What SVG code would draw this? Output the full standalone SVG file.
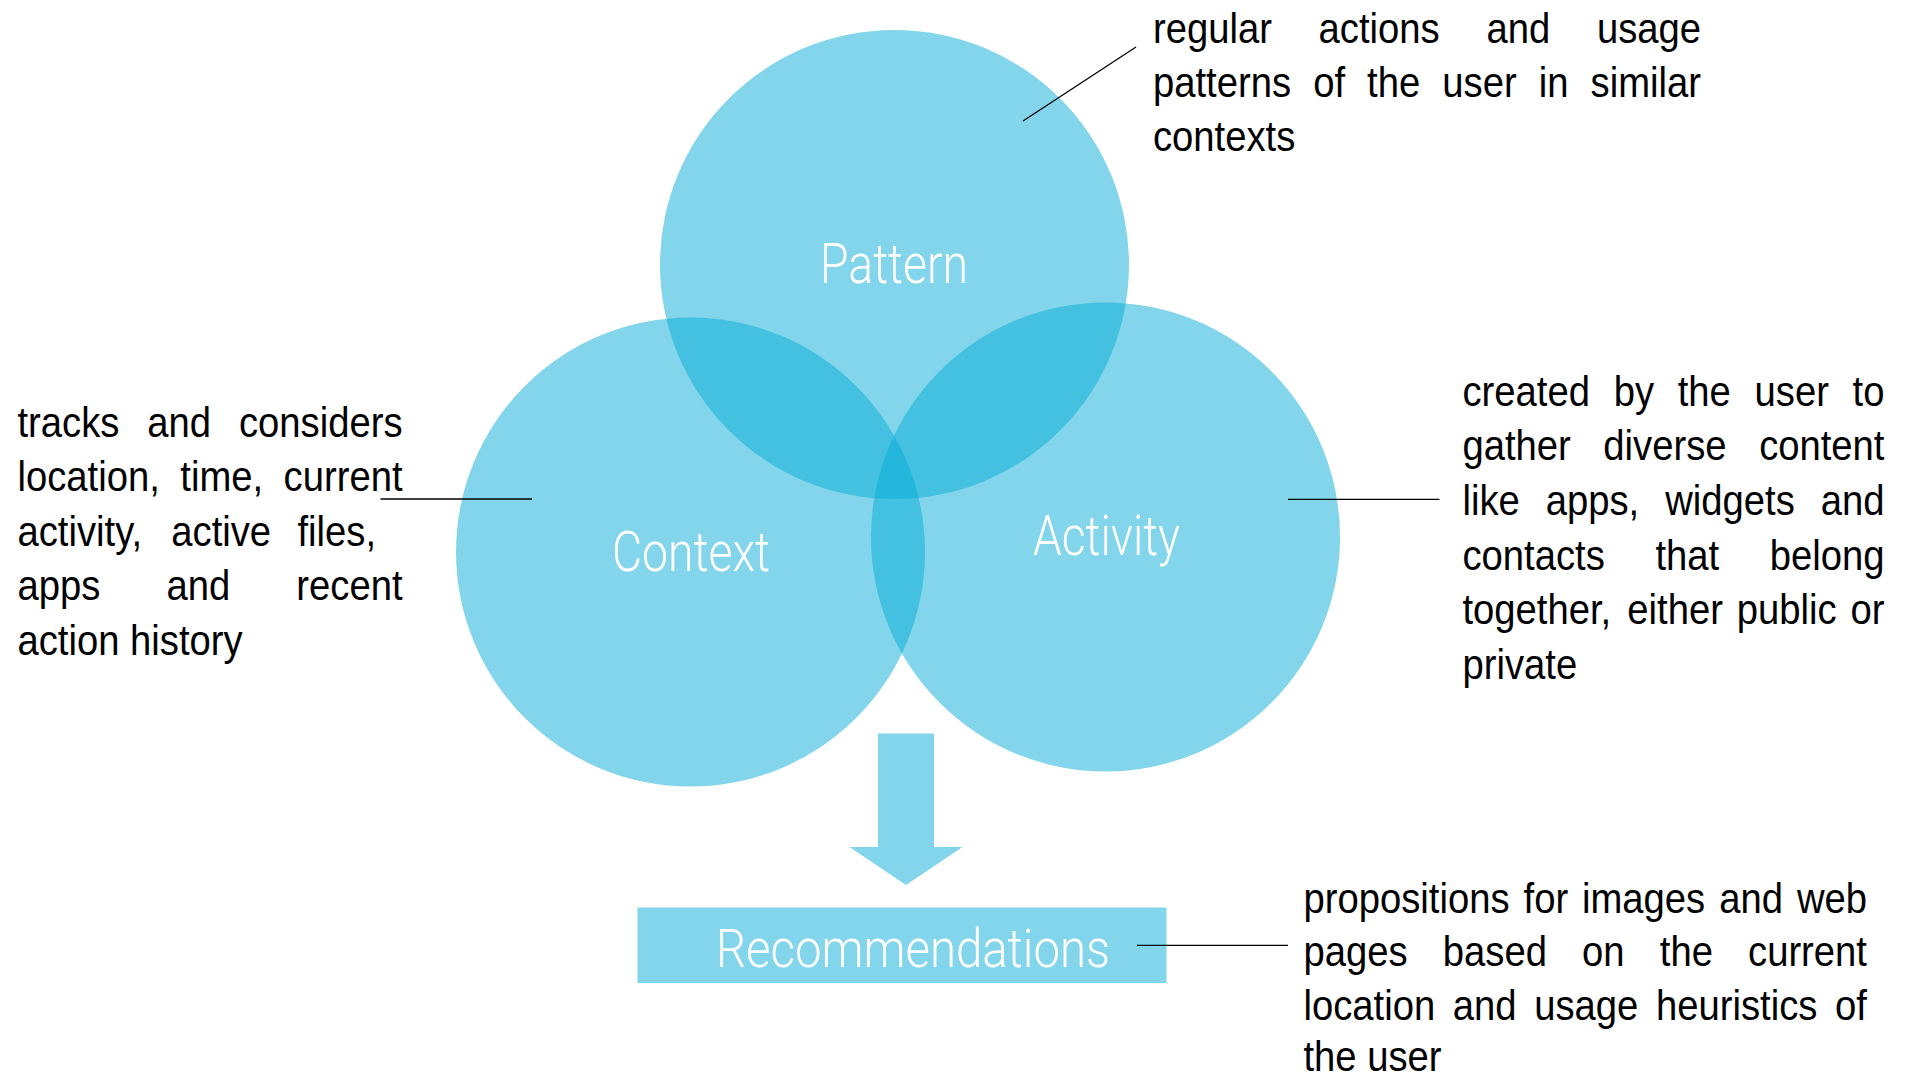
<svg xmlns="http://www.w3.org/2000/svg" width="1910" height="1080" viewBox="0 0 1910 1080">
  <style>
    .circle { fill: #05ABD5; fill-opacity: 0.5; }
    .solid { fill: #82D5EA; }
    .label { fill: #FFFFFF; font-family: "Roboto", "Liberation Sans", sans-serif; font-weight: 300; }
    .note { fill: #000000; font-family: "Liberation Sans", Arial, sans-serif; font-size: 42px; }
    .lead { stroke: #000000; stroke-width: 1.3; fill: none; }
  </style>
  <rect x="0" y="0" width="1910" height="1080" fill="#FFFFFF"/>

  <g id="node-pattern">
    <circle class="circle" cx="894.5" cy="264.5" r="234.5"/>
    <text class="label" x="820" y="283" font-size="56" textLength="148" lengthAdjust="spacingAndGlyphs">Pattern</text>
  </g>
  <g id="node-context">
    <circle class="circle" cx="690.5" cy="552" r="234.5"/>
    <text class="label" x="612" y="571" font-size="56" textLength="158" lengthAdjust="spacingAndGlyphs">Context</text>
  </g>
  <g id="node-activity">
    <circle class="circle" cx="1105.5" cy="537" r="234.5"/>
    <text class="label" x="1033" y="555" font-size="56" textLength="147" lengthAdjust="spacingAndGlyphs">Activity</text>
  </g>
  <g id="node-recommendations">
    <rect class="solid" x="637.5" y="907.5" width="529" height="75.5"/>
    <text class="label" x="716" y="967" font-size="54" textLength="394" lengthAdjust="spacingAndGlyphs">Recommendations</text>
  </g>

  <g id="connectors">
    <polygon id="arrow" class="solid" points="878,733.5 934,733.5 934,847 962.5,847 906,885 849.5,847 878,847"/>
    <line class="lead" x1="1023" y1="121" x2="1136" y2="47"/>
    <line class="lead" x1="380.5" y1="499" x2="532" y2="499"/>
    <line class="lead" x1="1288" y1="499.3" x2="1439.5" y2="499.3"/>
    <line class="lead" x1="1137" y1="945.3" x2="1288" y2="945.3"/>
  </g>

  <g id="note-pattern">
    <text class="note" transform="translate(1153,42.5) scale(0.91,1)"><tspan x="0">regular</tspan><tspan x="182.0">actions</tspan><tspan x="366.4">and</tspan><tspan x="487.8">usage</tspan></text>
    <text class="note" transform="translate(1153,96.5) scale(0.91,1)"><tspan x="0">patterns</tspan><tspan x="176.0">of</tspan><tspan x="235.3">the</tspan><tspan x="318.0">user</tspan><tspan x="423.9">in</tspan><tspan x="480.9">similar</tspan></text>
    <text class="note" transform="translate(1153,150.5) scale(0.91,1)">contexts</text>
  </g>

  <g id="note-context">
    <text class="note" transform="translate(17.5,436.7) scale(0.91,1)"><tspan x="0">tracks</tspan><tspan x="142.7">and</tspan><tspan x="243.4">considers</tspan></text>
    <text class="note" transform="translate(17.5,491.2) scale(0.91,1)"><tspan x="0">location,</tspan><tspan x="178.9">time,</tspan><tspan x="292.4">current</tspan></text>
    <text class="note" transform="translate(17.5,545.7) scale(0.91,1)"><tspan x="0">activity,</tspan><tspan x="169.0">active</tspan><tspan x="307.7">files,</tspan></text>
    <text class="note" transform="translate(17.5,600.2) scale(0.91,1)"><tspan x="0">apps</tspan><tspan x="163.7">and</tspan><tspan x="306.4">recent</tspan></text>
    <text class="note" transform="translate(17.5,654.7) scale(0.91,1)">action history</text>
  </g>

  <g id="note-activity">
    <text class="note" transform="translate(1462.5,405.7) scale(0.91,1)"><tspan x="0">created</tspan><tspan x="166.1">by</tspan><tspan x="236.5">the</tspan><tspan x="321.0">user</tspan><tspan x="428.7">to</tspan></text>
    <text class="note" transform="translate(1462.5,460.3) scale(0.91,1)"><tspan x="0">gather</tspan><tspan x="154.8">diverse</tspan><tspan x="326.0">content</tspan></text>
    <text class="note" transform="translate(1462.5,515) scale(0.91,1)"><tspan x="0">like</tspan><tspan x="91.5">apps,</tspan><tspan x="222.8">widgets</tspan><tspan x="393.7">and</tspan></text>
    <text class="note" transform="translate(1462.5,569.7) scale(0.91,1)"><tspan x="0">contacts</tspan><tspan x="212.0">that</tspan><tspan x="337.7">belong</tspan></text>
    <text class="note" transform="translate(1462.5,624.3) scale(0.91,1)"><tspan x="0">together,</tspan><tspan x="181.1">either</tspan><tspan x="301.4">public</tspan><tspan x="426.4">or</tspan></text>
    <text class="note" transform="translate(1462.5,679) scale(0.91,1)">private</text>
  </g>

  <g id="note-recommendations">
    <text class="note" transform="translate(1303.5,912.5) scale(0.91,1)"><tspan x="0">propositions</tspan><tspan x="241.8">for</tspan><tspan x="306.1">images</tspan><tspan x="456.8">and</tspan><tspan x="542.2">web</tspan></text>
    <text class="note" transform="translate(1303.5,966.3) scale(0.91,1)"><tspan x="0">pages</tspan><tspan x="153.1">based</tspan><tspan x="306.1">on</tspan><tspan x="391.5">the</tspan><tspan x="488.5">current</tspan></text>
    <text class="note" transform="translate(1303.5,1020) scale(0.91,1)"><tspan x="0">location</tspan><tspan x="164.1">and</tspan><tspan x="253.6">usage</tspan><tspan x="387.4">heuristics</tspan><tspan x="584.2">of</tspan></text>
    <text class="note" transform="translate(1303.5,1071) scale(0.91,1)">the user</text>
  </g>
</svg>
